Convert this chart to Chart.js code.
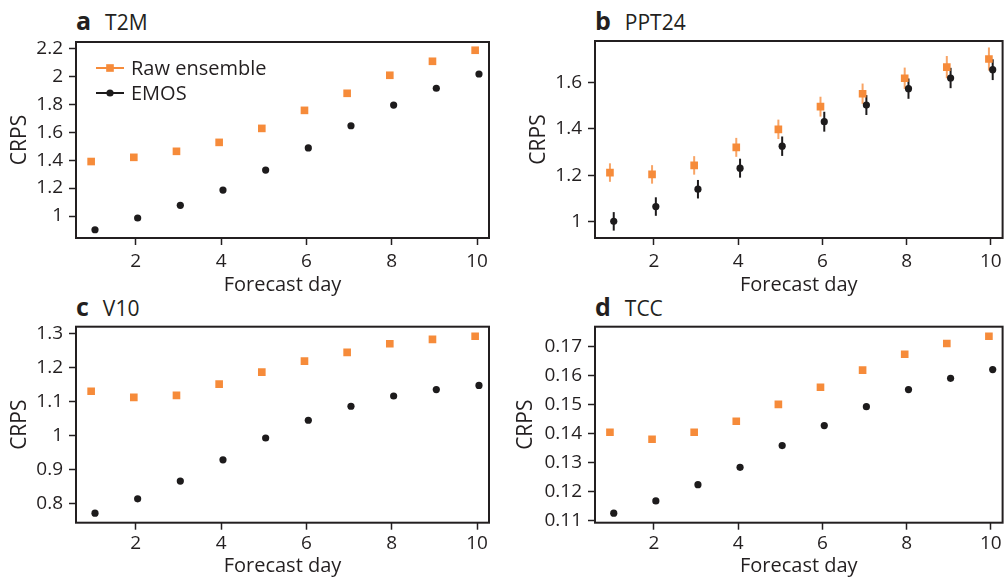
<!DOCTYPE html>
<html>
<head>
<meta charset="utf-8">
<script src="https://cdn.jsdelivr.net/npm/chart.js@4.4.1/dist/chart.umd.min.js"></script>
<style>
  html, body { margin: 0; padding: 0; background: #fff; overflow: hidden; }
  body { width: 1008px; height: 581px; position: relative; font-family: "Open Sans", sans-serif; color: #231f20; }
  canvas { position: absolute; }
  .ptitle { position: absolute; white-space: nowrap; line-height: 1; }
  .ptitle b { font-size: 25px; font-weight: 700; margin-right: 14px; }
  .ptitle span { font-size: 21px; }
</style>
</head>
<body>
<div class="ptitle" style="left:76px;top:8px"><b>a</b><span>T2M</span></div>
<div class="ptitle" style="left:595px;top:8px"><b>b</b><span>PPT24</span></div>
<div class="ptitle" style="left:76px;top:294px"><b>c</b><span>V10</span></div>
<div class="ptitle" style="left:595px;top:294px"><b>d</b><span>TCC</span></div>
<canvas id="chartA" width="504" height="300" style="left:0;top:0"></canvas>
<canvas id="chartB" width="504" height="300" style="left:504px;top:0"></canvas>
<canvas id="chartC" width="504" height="291" style="left:0;top:290px"></canvas>
<canvas id="chartD" width="504" height="291" style="left:504px;top:290px"></canvas>
<script>
const days = [1, 2, 3, 4, 5, 6, 7, 8, 9, 10];
const xTicks = [2, 4, 6, 8, 10];

const t2mRaw = [1.39, 1.42, 1.463, 1.527, 1.627, 1.756, 1.878, 2.007, 2.107, 2.186];
const t2mEmos = [0.902, 0.986, 1.077, 1.186, 1.329, 1.487, 1.646, 1.794, 1.914, 2.016];
const t2mTicks = [1, 1.2, 1.4, 1.6, 1.8, 2, 2.2];

const pptRaw = [1.211, 1.203, 1.242, 1.32, 1.398, 1.496, 1.552, 1.619, 1.667, 1.702];
const pptEmos = [1.0, 1.064, 1.139, 1.23, 1.325, 1.431, 1.503, 1.574, 1.62, 1.656];
const pptRawErr = [0.04, 0.04, 0.04, 0.041, 0.042, 0.043, 0.044, 0.046, 0.048, 0.05];
const pptEmosErr = [0.04, 0.04, 0.04, 0.041, 0.042, 0.043, 0.043, 0.044, 0.044, 0.045];
const pptTicks = [1, 1.2, 1.4, 1.6];

const v10Raw = [1.13, 1.112, 1.118, 1.151, 1.186, 1.218, 1.244, 1.269, 1.282, 1.291];
const v10Emos = [0.773, 0.815, 0.867, 0.929, 0.993, 1.045, 1.086, 1.116, 1.135, 1.147];
const v10Ticks = [0.8, 0.9, 1, 1.1, 1.2, 1.3];

const tccRaw = [0.1405, 0.1381, 0.1405, 0.1443, 0.1501, 0.156, 0.1619, 0.1674, 0.1711, 0.1736];
const tccEmos = [0.1126, 0.1168, 0.1224, 0.1284, 0.1359, 0.1428, 0.1493, 0.1552, 0.1591, 0.1621];
const tccTicks = [0.11, 0.12, 0.13, 0.14, 0.15, 0.16, 0.17];

const ORANGE = '#f68b3a';
const ORANGE_BAR = '#f8a465';
const BLACK = '#1d1b1c';
const INK = '#231f20';
const FONT = '"Open Sans", sans-serif';

// box around the plot area
const framePlugin = {
  id: 'frame',
  afterDraw(chart) {
    const a = chart.chartArea, ctx = chart.ctx;
    ctx.save();
    ctx.strokeStyle = INK;
    ctx.lineWidth = 2;
    ctx.strokeRect(a.left, a.top, a.right - a.left, a.bottom - a.top);
    ctx.restore();
  }
};

// vertical error bars (panel b)
const errorBarPlugin = {
  id: 'errbars',
  beforeDatasetsDraw(chart, args, opts) {
    if (!opts.errors) return;
    const ctx = chart.ctx, xs = chart.scales.x, ys = chart.scales.y;
    ctx.save();
    ctx.lineWidth = 2;
    chart.data.datasets.forEach((ds, i) => {
      const err = opts.errors[i];
      if (!err) return;
      ctx.strokeStyle = opts.colors[i];
      ds.data.forEach((p, j) => {
        const x = xs.getPixelForValue(p.x);
        ctx.beginPath();
        ctx.moveTo(x, ys.getPixelForValue(p.y - err[j]));
        ctx.lineTo(x, ys.getPixelForValue(p.y + err[j]));
        ctx.stroke();
      });
    });
    ctx.restore();
  }
};

// legend with a short line through the marker
const lineLegendPlugin = {
  id: 'lineLegend',
  afterDraw(chart, args, opts) {
    if (!opts.show) return;
    const ctx = chart.ctx;
    ctx.save();
    opts.items.forEach((idx, k) => {
      const ds = chart.data.datasets[idx];
      const y = opts.y + k * opts.gap;
      ctx.strokeStyle = ds.borderColor;
      ctx.lineWidth = 2;
      ctx.beginPath();
      ctx.moveTo(opts.x, y);
      ctx.lineTo(opts.x + opts.len, y);
      ctx.stroke();
      ctx.fillStyle = ds.backgroundColor;
      Chart.helpers.drawPoint(ctx, { pointStyle: ds.pointStyle, radius: ds.pointRadius, rotation: 0, borderWidth: 0 }, opts.x + opts.len / 2, y);
      ctx.fillStyle = INK;
      ctx.font = '20px ' + FONT;
      ctx.textBaseline = 'middle';
      ctx.fillText(ds.label, opts.x + opts.len + 7, y + 1);
    });
    ctx.restore();
  }
};

function makePanel(id, box, raw, emos, yTicks, yRange, extra) {
  const shift = 0.045;
  const c = document.getElementById(id);
  return new Chart(c, {
    type: 'scatter',
    data: {
      datasets: [{
        label: 'Raw ensemble',
        data: days.map((d, i) => ({ x: d - shift, y: raw[i] })),
        pointStyle: 'rect',
        pointRadius: 5.4,
        backgroundColor: ORANGE,
        borderColor: ORANGE,
        borderWidth: 0,
        order: 2
      }, {
        label: 'EMOS',
        data: days.map((d, i) => ({ x: d + shift, y: emos[i] })),
        pointStyle: 'circle',
        pointRadius: 3.6,
        backgroundColor: BLACK,
        borderColor: BLACK,
        borderWidth: 0,
        order: 1
      }]
    },
    options: {
      responsive: false,
      animation: false,
      events: [],
      layout: { padding: { left: 0, bottom: 0, top: box.top, right: box.right } },
      plugins: {
        legend: { display: false },
        tooltip: { enabled: false },
        errbars: extra.errbars || {},
        lineLegend: extra.legend || { show: false }
      },
      scales: {
        x: {
          type: 'linear',
          min: 0.6, max: 10.28,
          afterFit: s => { s.height = box.xh; },
          afterBuildTicks: s => { s.ticks = xTicks.map(v => ({ value: v })); },
          grid: { drawOnChartArea: false, drawTicks: true, tickLength: 7, tickColor: INK, tickWidth: 1.5 },
          border: { display: false },
          ticks: { color: INK, font: { family: FONT, size: 19 }, padding: box.xpad, callback: v => String(v) },
          title: { display: true, text: 'Forecast day', color: INK, font: { family: FONT, size: 20 }, padding: { top: 0, bottom: box.xtpad } }
        },
        y: {
          type: 'linear',
          min: yRange[0], max: yRange[1],
          afterFit: s => { s.width = box.left; },
          afterBuildTicks: s => { s.ticks = yTicks.map(v => ({ value: v })); },
          grid: { drawOnChartArea: false, drawTicks: true, tickLength: 7, tickColor: INK, tickWidth: 1.5 },
          border: { display: false },
          ticks: { color: INK, font: { family: FONT, size: 19 }, padding: 6, callback: v => String(v) },
          title: { display: true, text: 'CRPS', color: INK, font: { family: FONT, size: 21 }, padding: { top: box.ytpad, bottom: 0 } }
        }
      }
    },
    plugins: [framePlugin, errorBarPlugin, lineLegendPlugin]
  });
}

makePanel('chartA', { top: 42, right: 15, left: 76, xh: 62, xpad: 5, xtpad: 3, ytpad: 7.4 },
  t2mRaw, t2mEmos, t2mTicks, [0.843, 2.245],
  { legend: { show: true, items: [0, 1], x: 96, y: 68, gap: 25, len: 28 } });

makePanel('chartB', { top: 41, right: 1, left: 91, xh: 62, xpad: 5, xtpad: 3, ytpad: 22 },
  pptRaw, pptEmos, pptTicks, [0.928, 1.78],
  { errbars: { errors: [pptRawErr, pptEmosErr], colors: [ORANGE_BAR, BLACK] } });

makePanel('chartC', { top: 36.7, right: 15, left: 76, xh: 58.3, xpad: 2.2, xtpad: 2.3, ytpad: 7.4 },
  v10Raw, v10Emos, v10Ticks, [0.745, 1.319], {});

makePanel('chartD', { top: 36.7, right: 1, left: 91, xh: 58.3, xpad: 2.2, xtpad: 2.3, ytpad: 9.4 },
  tccRaw, tccEmos, tccTicks, [0.1093, 0.1769], {});
</script>
</body>
</html>
